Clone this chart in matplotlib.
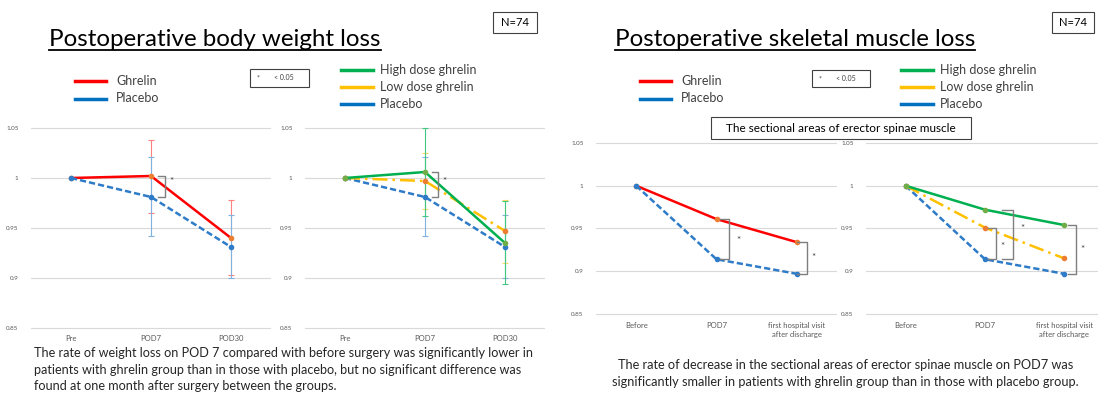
import matplotlib
matplotlib.use("Agg")
import matplotlib.pyplot as plt
from matplotlib.lines import Line2D
from matplotlib.patches import Rectangle
import numpy as np

plt.rcParams['font.family'] = ['Lato', 'DejaVu Sans']

W, H = 1098, 395
nan = np.nan

# ---- body weight (relative to Pre) ----
bw_times = ["Pre", "POD7", "POD30"]
bw_ghrelin = [1.0, 1.002, 0.940]
bw_ghrelin_lo = [nan, 0.965, 0.903]
bw_ghrelin_hi = [nan, 1.038, 0.978]
bw_placebo = [1.0, 0.981, 0.931]
bw_placebo_lo = [nan, 0.942, 0.900]
bw_placebo_hi = [nan, 1.021, 0.963]
bw_high = [1.0, 1.006, 0.935]
bw_high_lo = [nan, 0.962, 0.894]
bw_high_hi = [nan, 1.050, 0.977]
bw_low = [1.0, 0.997, 0.947]
bw_low_lo = [nan, 0.969, 0.915]
bw_low_hi = [nan, 1.025, 0.978]

# ---- erector spinae sectional area (relative to Before) ----
ms_times = ["Before", "POD7", "first hospital visit\nafter discharge"]
ms_ghrelin = [1.0, 0.961, 0.934]
ms_placebo = [1.0, 0.914, 0.897]
ms_high = [1.0, 0.972, 0.954]
ms_low = [1.0, 0.951, 0.915]

yticks = [0.85, 0.9, 0.95, 1.0, 1.05]
ytick_labels = ["0.85", "0.9", "0.95", "1", "1.05"]

RED = "#FF0000"
BLUE = "#2E7BC8"
GREEN = "#00B050"
YELLOW = "#FFC000"
ORANGE = "#ED7D31"
BRACKET = "#7F7F7F"


def fx(x):
    return x / W


def fy(y):
    return 1 - y / H


def make_panel(fig, x_left, x_right, y105, y085, times, pad_x):
    # axes in pixel coordinates; y105/y085 are pixel rows of the 1.05 / 0.85 grid lines
    per = (y085 - y105) / 0.2
    lo, hi = 0.845, 1.055
    top = y105 - (hi - 1.05) * per
    bot = y085 + (0.85 - lo) * per
    ax = fig.add_axes([fx(x_left), fy(bot), (x_right - x_left) / W, (bot - top) / H])
    ax.set_xlim(-0.5, 2.5)
    ax.set_ylim(lo, hi)
    for s in ax.spines.values():
        s.set_visible(False)
    ax.set_yticks(yticks)
    ax.set_yticklabels(ytick_labels)
    ax.set_xticks(range(len(times)))
    ax.set_xticklabels(times, linespacing=1.3)
    ax.tick_params(axis='y', length=0, pad=9, labelsize=4.5, labelcolor="#595959")
    ax.tick_params(axis='x', length=0, pad=pad_x, labelsize=5.5, labelcolor="#595959")
    ax.yaxis.grid(True, color="#D9D9D9", lw=0.8)
    ax.set_axisbelow(True)
    ax.patch.set_alpha(0)
    return ax


def draw_series(ax, vals, color, mcolor, ls, lo=None, hi=None, ecolor=None):
    x = np.arange(len(vals))
    v = np.array(vals, dtype=float)
    if lo is not None:
        yerr = [v - np.array(lo, dtype=float), np.array(hi, dtype=float) - v]
        ax.errorbar(x, v, yerr=yerr, fmt='none', ecolor=ecolor, elinewidth=0.8,
                    capsize=2, capthick=0.8, zorder=2)
    ax.plot(x, v, color=color, lw=1.8, ls=ls, marker='o', ms=3,
            mfc=mcolor, mec=mcolor, zorder=3)


def bracket(ax, x0, x1, y1, y2, sx, sy):
    ax.plot([x0, x1, x1, x0], [y1, y1, y2, y2], color=BRACKET, lw=1, zorder=4)
    ax.text(sx, sy, "*", fontsize=7, ha='center', va='center', color="#404040")


fig = plt.figure(figsize=(W / 100, H / 100), dpi=100)

# ---- panel 1: body weight, ghrelin vs placebo ----
ax1 = make_panel(fig, 31, 271, 128, 328, bw_times, 1.5)
draw_series(ax1, bw_ghrelin, RED, ORANGE, '-', bw_ghrelin_lo, bw_ghrelin_hi, "#FF8080")
draw_series(ax1, bw_placebo, BLUE, BLUE, (0, (2.5, 1.2)), bw_placebo_lo, bw_placebo_hi, "#7FB2E0")
bracket(ax1, 1.09, 1.175, bw_ghrelin[1], bw_placebo[1], 1.25, 0.996)

# ---- panel 2: body weight, high / low dose vs placebo ----
ax2 = make_panel(fig, 305, 545, 128, 328, bw_times, 1.5)
draw_series(ax2, bw_placebo, BLUE, BLUE, (0, (2.5, 1.2)), bw_placebo_lo, bw_placebo_hi, "#7FB2E0")
draw_series(ax2, bw_low, YELLOW, ORANGE, (0, (6, 2, 1, 2)), bw_low_lo, bw_low_hi, "#FFD966")
draw_series(ax2, bw_high, GREEN, "#70AD47", '-', bw_high_lo, bw_high_hi, "#40C880")
bracket(ax2, 1.09, 1.16, bw_high[1], bw_placebo[1], 1.24, 0.997)

# ---- panel 3: muscle, ghrelin vs placebo ----
ax3 = make_panel(fig, 596, 837, 143, 314, ms_times, 3)
draw_series(ax3, ms_ghrelin, RED, ORANGE, '-')
draw_series(ax3, ms_placebo, BLUE, BLUE, (0, (2.5, 1.2)))
bracket(ax3, 1.045, 1.155, ms_ghrelin[1], ms_placebo[1], 1.27, 0.936)
bracket(ax3, 2.0, 2.13, ms_ghrelin[2], ms_placebo[2], 2.21, 0.916)

# ---- panel 4: muscle, high / low dose vs placebo ----
ax4 = make_panel(fig, 866, 1104, 143, 314, ms_times, 3)
draw_series(ax4, ms_placebo, BLUE, BLUE, (0, (2.5, 1.2)))
draw_series(ax4, ms_low, YELLOW, ORANGE, (0, (6, 2, 1, 2)))
draw_series(ax4, ms_high, GREEN, "#70AD47", '-')
bracket(ax4, 1.04, 1.14, ms_low[1], ms_placebo[1], 1.22, 0.929)
bracket(ax4, 1.22, 1.35, ms_high[1], ms_placebo[1], 1.47, 0.950)
bracket(ax4, 2.04, 2.15, ms_high[2], ms_placebo[2], 2.23, 0.926)


# ---- header: titles, legends, boxes ----
def ftext(x, y, s, **kw):
    return fig.text(fx(x), fy(y), s, **kw)


def fline(x0, x1, y, color, lw):
    fig.add_artist(Line2D([fx(x0), fx(x1)], [fy(y), fy(y)], color=color, lw=lw,
                          transform=fig.transFigure))


def fbox(x0, y0, x1, y1):
    fig.add_artist(Rectangle((fx(x0), fy(y1)), (x1 - x0) / W, (y1 - y0) / H,
                             fill=False, ec="#404040", lw=0.8, transform=fig.transFigure))


titles = [
    (49, "Postoperative body weight loss"),
    (615, "Postoperative skeletal muscle loss"),
]
title_artists = []
for x, s in titles:
    title_artists.append(ftext(x, 45.5, s, fontsize=17.4, va='baseline', color="#000000"))

# N=74 boxes
for x0, x1 in [(493, 537), (1052, 1094)]:
    fbox(x0, 12, x1, 33)
    ftext((x0 + x1) / 2, 22.5, "N=74", fontsize=8, ha='center', va='center', color="#000000")

# p-value boxes
for x0, x1, y0, y1 in [(250, 309, 69, 87), (812, 870, 70, 87)]:
    fbox(x0, y0, x1, y1)
    ftext(x0 + 8, (y0 + y1) / 2, "*", fontsize=5, ha='center', va='center', color="#404040")
    ftext(x0 + 24, (y0 + y1) / 2, "< 0.05", fontsize=5, ha='left', va='center', color="#404040")

# two-group legends
for lx, ly in [(75, 81), (640, 81)]:
    for i, (lab, col) in enumerate([("Ghrelin", RED), ("Placebo", "#0070C0")]):
        yy = ly + i * 17.5
        fline(lx, lx + 31, yy, col, 2.5)
        ftext(lx + 41, yy, lab, fontsize=9, va='center', color="#404040")

# three-group legends
for lx, ly in [(341, 70), (901, 70)]:
    for i, (lab, col) in enumerate([("High dose ghrelin", GREEN), ("Low dose ghrelin", YELLOW),
                                    ("Placebo", "#0070C0")]):
        yy = ly + i * 17
        fline(lx, lx + 32, yy, col, 2.5)
        ftext(lx + 39, yy, lab, fontsize=9, va='center', color="#404040")

# erector spinae label box
fbox(711, 117, 971, 139)
ftext(841, 128, "The sectional areas of erector spinae muscle", fontsize=8.5,
      ha='center', va='center', color="#000000")

# ---- bottom notes ----
left_note = ["The rate of weight loss on POD 7 compared with before surgery was significantly lower in",
             "patients with ghrelin group than in those with placebo, but no significant difference was",
             "found at one month after surgery between the groups."]
for i, line in enumerate(left_note):
    ftext(34, 357 + i * 16.5, line, fontsize=9.1, va='baseline', color="#262626")

right_note = ["The rate of decrease in the sectional areas of erector spinae muscle on POD7 was",
              "significantly smaller in patients with ghrelin group than in those with placebo group."]
for i, line in enumerate(right_note):
    ftext(845.5, 369 + i * 16.5, line, fontsize=9.2, ha='center', va='baseline', color="#262626")

# underline the titles
fig.canvas.draw()
r = fig.canvas.get_renderer()
for t in title_artists:
    bb = t.get_window_extent(r)
    fline(bb.x0, bb.x1, 50, "#000000", 1.3)

fig.savefig("out.png", dpi=100)
